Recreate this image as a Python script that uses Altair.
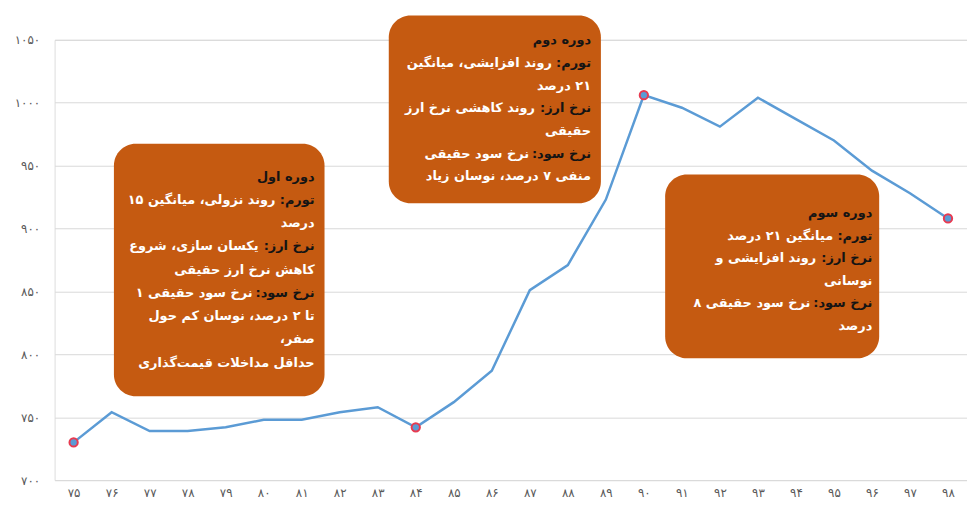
import altair as alt
import pandas as pd

# ---------------- data ----------------
years = list(range(75, 99))
values = [730, 754, 739, 739, 742, 748, 748, 754, 758, 742, 762, 787,
          851, 871, 923, 1006, 996, 981, 1004, 987, 970, 946, 928, 908]
highlight_years = [75, 84, 90, 98]
y_ticks = [700, 750, 800, 850, 900, 950, 1000, 1050]

# annotation boxes (data units): left, right, top, bottom
box_left = [76.06, 83.29, 90.56]
box_right = [81.6, 88.87, 96.19]
box_top = [967.4, 1069.3, 942.9]
box_bottom = [766.7, 920.0, 796.8]
# text anchor (right edge), first line centre, line step (data units)
text_right = [81.34, 88.61, 96.01]
text_first = [941.3, 1049.5, 912.0]
text_step = [18.5, 18.0, 17.9]

box1_lines = [
    ("دوره اول", ""),
    ("تورم:", " روند نزولی، میانگین ۱۵"),
    ("", "درصد"),
    ("نرخ ارز:", " یکسان سازی، شروع"),
    ("", "کاهش نرخ ارز حقیقی"),
    ("نرخ سود:", " نرخ سود حقیقی ۱"),
    ("", "تا ۲ درصد، نوسان کم حول"),
    ("", "صفر،"),
    ("", "حداقل مداخلات قیمت‌گذاری"),
]
box2_lines = [
    ("دوره دوم", ""),
    ("تورم:", " روند افزایشی، میانگین"),
    ("", "۲۱ درصد"),
    ("نرخ ارز:", " روند کاهشی نرخ ارز"),
    ("", "حقیقی"),
    ("نرخ سود:", " نرخ سود حقیقی"),
    ("", "منفی ۷ درصد، نوسان زیاد"),
]
box3_lines = [
    ("دوره سوم", ""),
    ("تورم:", " میانگین ۲۱ درصد"),
    ("نرخ ارز:", " روند افزایشی و"),
    ("", "نوسانی"),
    ("نرخ سود:", " نرخ سود حقیقی ۸"),
    ("", "درصد"),
]
all_lines = [box1_lines, box2_lines, box3_lines]

# approximate rendered width (px) of each dark label, used to offset the white remainder
prefix_px = {"": 0, "تورم:": 35, "نرخ ارز:": 52, "نرخ سود:": 58}

# ---------------- helpers ----------------
FA = str.maketrans("0123456789", "۰۱۲۳۴۵۶۷۸۹")


def fa(n):
    return str(n).translate(FA)


RLM = "\u200f"

x_label_expr = "[" + ",".join(f"'{fa(y)}'" for y in years) + f"][datum.value - {years[0]}]"
y_label_expr = "[" + ",".join(f"'{fa(v)}'" for v in y_ticks) + f"][(datum.value - {y_ticks[0]}) / 50]"

line_df = pd.DataFrame({"year": years, "value": values})
pts_df = line_df[line_df["year"].isin(highlight_years)]
box_df = pd.DataFrame({"x": box_left, "x2": box_right, "y": box_top, "y2": box_bottom})

rows = []
for i, lines in enumerate(all_lines):
    for j, (pre, rest) in enumerate(lines):
        yy = text_first[i] - j * text_step[i]
        if rest == "":
            rows.append({"x": text_right[i], "y": yy, "t": RLM + pre + RLM, "c": "#141414", "dx": 0})
        else:
            if pre:
                rows.append({"x": text_right[i], "y": yy, "t": RLM + pre + RLM, "c": "#141414", "dx": 0})
            rows.append({"x": text_right[i], "y": yy, "t": RLM + rest + RLM, "c": "#ffffff",
                         "dx": -prefix_px[pre]})
text_df = pd.DataFrame(rows)

xscale = alt.Scale(domain=[74.5, 98.5], nice=False, zero=False)
yscale = alt.Scale(domain=[700, 1050], nice=False, zero=False)

x_axis = alt.Axis(values=years, labelExpr=x_label_expr, grid=False, ticks=False,
                  domain=False, labelPadding=8, labelFontSize=12, labelColor="#595959",
                  labelFont="DejaVu Sans", labelOverlap=False, labelSeparation=0,
                  labelFlush=False, title=None)
y_axis = alt.Axis(values=y_ticks, labelExpr=y_label_expr, grid=True, gridColor="#D9D9D9",
                  ticks=False, domain=False, labelPadding=15, labelFontSize=12,
                  labelColor="#595959", labelFont="DejaVu Sans", labelOverlap=False,
                  labelFlush=False, title=None)

X = lambda f: alt.X(f, scale=xscale, axis=x_axis)
Y = lambda f: alt.Y(f, scale=yscale, axis=y_axis)

line = alt.Chart(line_df).mark_line(color="#5B9BD5", strokeWidth=2.5).encode(
    x=X("year:Q"), y=Y("value:Q"),
)
points = alt.Chart(pts_df).mark_point(filled=True, shape="circle", size=70, fill="#5B9BD5",
                                      stroke="#E83A50", strokeWidth=2, opacity=1).encode(
    x=X("year:Q"), y=Y("value:Q"),
)
boxes = alt.Chart(box_df).mark_rect(color="#C55A11", cornerRadius=22).encode(
    x=X("x:Q"), x2="x2:Q", y=Y("y:Q"), y2="y2:Q",
)

text_layers = []
for dx in sorted(text_df["dx"].unique()):
    sub = text_df[text_df["dx"] == dx]
    text_layers.append(
        alt.Chart(sub).mark_text(align="right", baseline="middle", font="DejaVu Sans",
                                 fontWeight="bold", fontSize=13, dx=int(dx)).encode(
            x=X("x:Q"), y=Y("y:Q"),
            text="t:N",
            color=alt.Color("c:N", scale=None),
        )
    )

chart = alt.layer(line, points, boxes, *text_layers).properties(
    width=920, height=444,
    autosize=alt.AutoSizeParams(type="none"),
    padding={"left": 47, "top": 30, "right": 0, "bottom": 25},
).configure_view(stroke=None).configure_axis(labelOverlap=False).configure(background="white")

chart.save("out.html", embed_options={"renderer": "svg", "actions": False})
